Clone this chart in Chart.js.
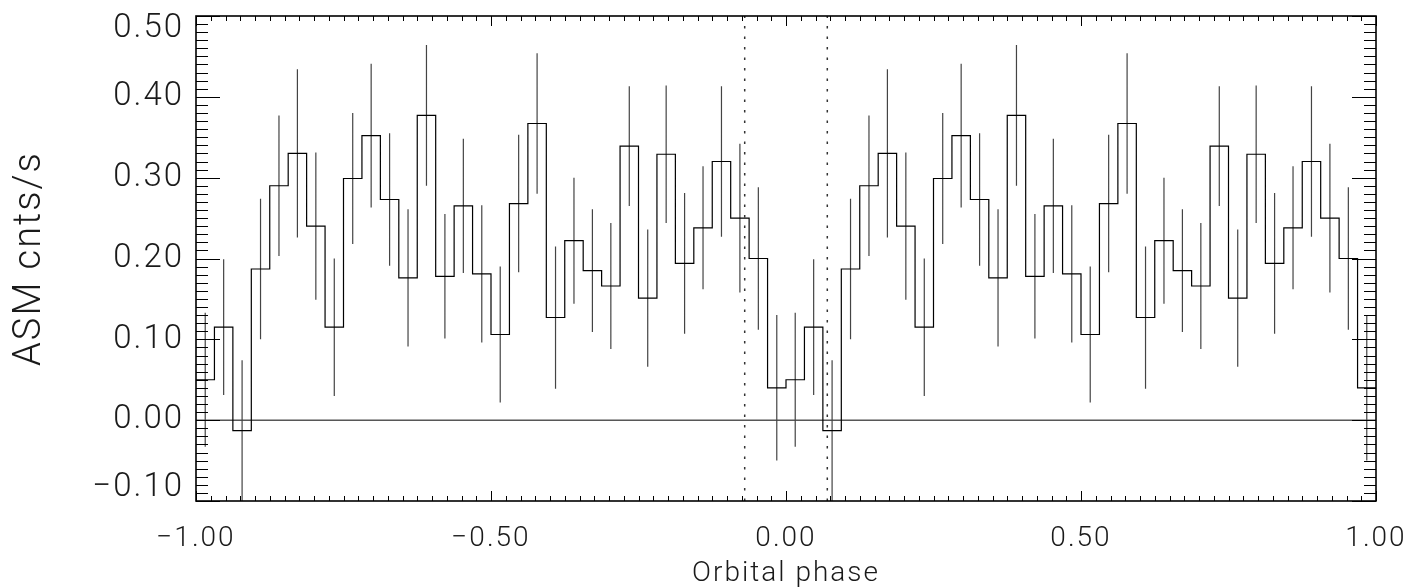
<!DOCTYPE html>
<html>
<head>
<meta charset="utf-8">
<script src="https://cdn.jsdelivr.net/npm/chart.js@4.4.1/dist/chart.umd.min.js"></script>
<style>
  html, body { margin: 0; padding: 0; background: #fff; }
  canvas { display: block; }
</style>
</head>
<body>
<canvas id="phaseplot" width="1411" height="588"></canvas>
<script>
// folded ASM light curve, 32 phase bins (shown twice, -1..0 and 0..1)
var nBins = 32;
var rate = [0.050, 0.115, -0.013, 0.187, 0.290, 0.330, 0.240, 0.115,
            0.299, 0.352, 0.273, 0.176, 0.377, 0.178, 0.265, 0.181,
            0.106, 0.268, 0.367, 0.127, 0.222, 0.185, 0.166, 0.339,
            0.151, 0.329, 0.194, 0.238, 0.320, 0.250, 0.200, 0.040];
var rateErr = [0.083, 0.084, 0.087, 0.087, 0.087, 0.104, 0.091, 0.085,
               0.081, 0.089, 0.082, 0.085, 0.087, 0.077, 0.083, 0.085,
               0.084, 0.085, 0.087, 0.088, 0.078, 0.076, 0.078, 0.074,
               0.085, 0.085, 0.087, 0.076, 0.093, 0.092, 0.088, 0.090];
var cycles = [-1, 0];
var eclipseEdges = [-0.07, 0.07];
var xTicks = [-1, -0.5, 0, 0.5, 1];
var yTicks = [-0.1, 0, 0.1, 0.2, 0.3, 0.4, 0.5];

// build the step histogram and the error bars
var steps = [];
var bars = [];
cycles.forEach(function(c) {
    for (var i = 0; i < nBins; i++) {
        var lo = c + i / nBins;
        var mid = c + (i + 0.5) / nBins;
        steps.push({x: lo, y: rate[i]});
        bars.push({x: mid, y: rate[i] - rateErr[i]});
        bars.push({x: mid, y: rate[i] + rateErr[i]});
        bars.push({x: mid, y: null});
    }
});
steps.push({x: cycles[cycles.length - 1] + 1, y: rate[nBins - 1]});

var dotted = [];
eclipseEdges.forEach(function(p) {
    dotted.push({x: p, y: yTicks[0]});
    dotted.push({x: p, y: yTicks[yTicks.length - 1]});
    dotted.push({x: p, y: null});
});

function fmt(v) {
    var s = Math.abs(v).toFixed(2);
    return (v < -1e-9 ? '\u2212' : '') + s;
}

var FONT = "Roboto, 'DejaVu Sans', sans-serif";
var TXT = '#1a1a1a';

// the hershey-ish labels are widely spaced
var spacing = {
    id: 'spacing',
    beforeLayout: function(chart) { chart.ctx.letterSpacing = '2px'; },
    beforeDraw: function(chart) { chart.ctx.letterSpacing = '2px'; }
};

// IDL-style frame with inward ticks on all four sides
var frameTicks = {
    id: 'frameTicks',
    afterDraw: function(chart) {
        var ctx = chart.ctx;
        var a = chart.chartArea;
        var xs = chart.scales.x, ys = chart.scales.y;
        ctx.save();
        ctx.strokeStyle = '#000';
        ctx.lineWidth = 1;
        ctx.beginPath();
        // x ticks every 0.025, major every 0.5
        for (var k = 0; k <= 80; k++) {
            var v = -1 + k * 0.025;
            var px = Math.round(xs.getPixelForValue(v)) + 0.5;
            var len = (k % 20 === 0) ? 10 : 5;
            ctx.moveTo(px, a.bottom); ctx.lineTo(px, a.bottom - len);
            ctx.moveTo(px, a.top); ctx.lineTo(px, a.top + len);
        }
        // y ticks every 0.01, major every 0.1
        for (var j = 0; j <= 60; j++) {
            var w = -0.1 + j * 0.01;
            var py = Math.round(ys.getPixelForValue(w)) + 0.5;
            var l2 = (j % 10 === 0) ? 24 : 12;
            ctx.moveTo(a.left, py); ctx.lineTo(a.left + l2, py);
            ctx.moveTo(a.right, py); ctx.lineTo(a.right - l2, py);
        }
        ctx.stroke();
        ctx.lineWidth = 1.6;
        ctx.strokeRect(a.left, a.top, a.right - a.left, a.bottom - a.top);
        ctx.restore();
    }
};

function noPad(s) {
    s.paddingLeft = 0; s.paddingRight = 0;
    s.paddingTop = 0; s.paddingBottom = 0;
}

var ctx = document.getElementById('phaseplot').getContext('2d');
var chart = new Chart(ctx, {
    type: 'line',
    data: {
        datasets: [
            {
                label: 'rate',
                data: steps,
                stepped: 'before',
                borderColor: '#000',
                borderWidth: 1.2,
                pointRadius: 0,
                fill: false
            },
            {
                label: 'errors',
                data: bars,
                borderColor: '#444',
                borderWidth: 1.2,
                pointRadius: 0,
                spanGaps: false,
                fill: false
            },
            {
                label: 'zero',
                data: [{x: -1, y: 0}, {x: 1, y: 0}],
                borderColor: '#000',
                borderWidth: 1,
                pointRadius: 0
            },
            {
                label: 'eclipse',
                data: dotted,
                borderColor: '#333',
                borderWidth: 1.5,
                borderDash: [2.5, 8],
                pointRadius: 0,
                spanGaps: false
            }
        ]
    },
    options: {
        responsive: false,
        animation: false,
        events: [],
        layout: { padding: { left: 0, right: 35, top: 16, bottom: 0 } },
        plugins: {
            legend: { display: false },
            tooltip: { enabled: false }
        },
        scales: {
            x: {
                type: 'linear',
                min: -1,
                max: 1,
                afterFit: function(s) { s.height = 87; noPad(s); },
                afterBuildTicks: function(s) {
                    s.ticks = xTicks.map(function(v) { return {value: v}; });
                },
                grid: { display: false, drawTicks: false },
                border: { display: false },
                ticks: {
                    padding: 21,
                    color: TXT,
                    maxRotation: 0,
                    autoSkip: false,
                    font: { family: FONT, size: 28, weight: 300 },
                    callback: function(v) { return fmt(v); }
                },
                title: {
                    display: true,
                    text: 'Orbital phase',
                    color: TXT,
                    font: { family: FONT, size: 28, weight: 300, lineHeight: 1.0 },
                    padding: { top: 0, bottom: 0 }
                }
            },
            y: {
                type: 'linear',
                min: -0.1,
                max: 0.5,
                afterFit: function(s) { s.width = 196; noPad(s); },
                afterBuildTicks: function(s) {
                    s.ticks = yTicks.map(function(v) { return {value: v}; });
                },
                grid: { display: false, drawTicks: false },
                border: { display: false },
                ticks: {
                    padding: 12,
                    color: TXT,
                    autoSkip: false,
                    font: { family: FONT, size: 33, weight: 300, lineHeight: 0.8 },
                    callback: function(v) {
                        // keep the end labels inside the frame, as in the original
                        if (v > 0.499) return ['', fmt(v)];
                        if (v < -0.099) return [fmt(v), ''];
                        return fmt(v);
                    }
                },
                title: {
                    display: true,
                    text: 'ASM cnts/s',
                    color: TXT,
                    font: { family: FONT, size: 38, weight: 300 },
                    padding: { top: 8, bottom: 0 }
                }
            }
        }
    },
    plugins: [spacing, frameTicks]
});
</script>
</body>
</html>
